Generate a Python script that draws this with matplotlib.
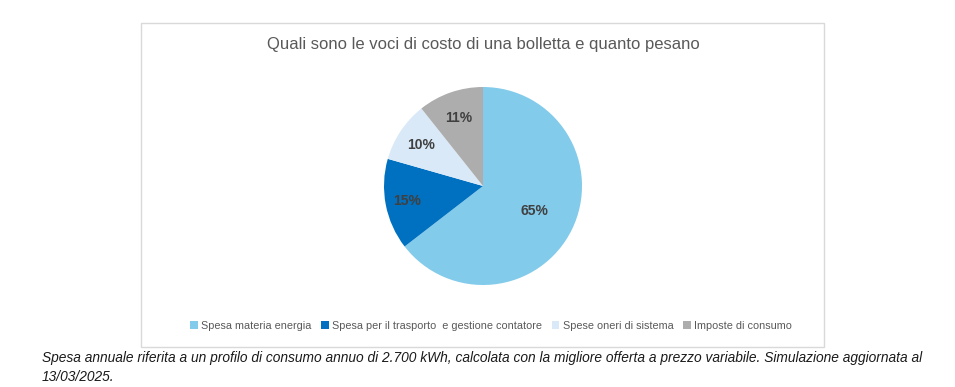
import numpy as np
import matplotlib
matplotlib.use('Agg')
import matplotlib.pyplot as plt
from matplotlib.patches import Rectangle

plt.rcParams['font.family'] = ['Liberation Sans', 'DejaVu Sans']

# data (shares of the annual bill, %)
categories = ['Spesa materia energia', 'Spesa per il trasporto  e gestione contatore',
              'Spese oneri di sistema', 'Imposte di consumo']
shares = [64.6, 14.9, 9.9, 10.7]
colors = ['#83CBEB', '#0070C0', '#DAE9F8', '#ADADAD']
label_radius = [0.58, 0.78, 0.75, 0.73]

title = 'Quali sono le voci di costo di una bolletta e quanto pesano'
caption_1 = ('Spesa annuale riferita a un profilo di consumo annuo di 2.700 kWh, calcolata con la '
             'migliore offerta a prezzo variabile. Simulazione aggiornata al')
caption_2 = '13/03/2025.'

W, H = 955, 387
fig = plt.figure(figsize=(W / 100, H / 100), dpi=100)

def fx(px):
    return px / W

def fy(py):
    return 1 - py / H

# chart frame
fig.patches.append(Rectangle((fx(141), fy(347)), fx(824) - fx(141), fy(23) - fy(347),
                             transform=fig.transFigure, fill=False,
                             edgecolor='#D9D9D9', lw=1.0))

# pie
cx, cy, r = 483, 186, 99
ax = fig.add_axes([fx(cx - r), fy(cy + r), 2 * r / W, 2 * r / H])
wedges, _ = ax.pie(shares, colors=colors, startangle=90, counterclock=False,
                   radius=1, wedgeprops=dict(linewidth=0))
ax.set_xlim(-1, 1)
ax.set_ylim(-1, 1)
ax.axis('off')

for w, v, lr in zip(wedges, shares, label_radius):
    ang = np.deg2rad((w.theta1 + w.theta2) / 2)
    ax.text(lr * np.cos(ang), lr * np.sin(ang), f'{v:.0f}%', ha='center', va='center',
            fontsize=10, fontweight='bold', color='#404040')

fig.text(fx(483), fy(45), title, ha='center', va='center', fontsize=12, color='#595959')

leg = fig.legend(wedges, categories, loc='center', bbox_to_anchor=(fx(491), fy(326)),
                 ncol=4, frameon=False, fontsize=7.8, handlelength=0.7, handleheight=0.7,
                 handletextpad=0.3, columnspacing=0.9, labelcolor='#595959')

fig.text(fx(42), fy(358), caption_1, ha='left', va='center', fontsize=9.9,
         style='italic', color='#1A1A1A')
fig.text(fx(42), fy(377), caption_2, ha='left', va='center', fontsize=9.9,
         style='italic', color='#1A1A1A')

fig.savefig('out.png', dpi=100)
